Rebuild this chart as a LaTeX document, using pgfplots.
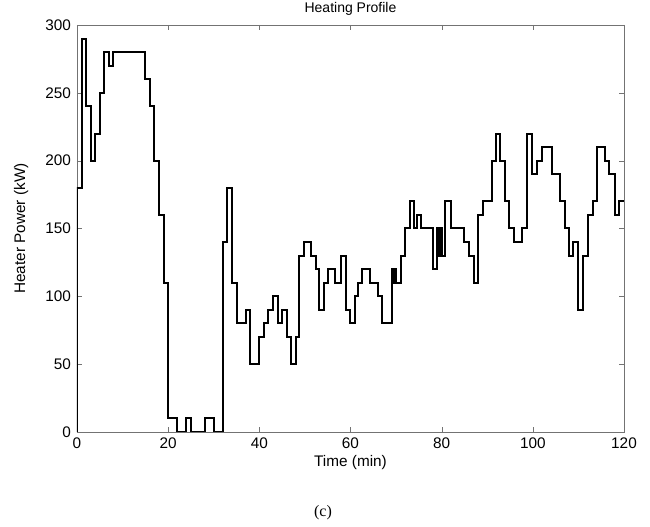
\documentclass[border=0pt]{standalone}
\usepackage{pgfplots}
\pgfplotsset{compat=1.18}
\usepackage{fontspec}
\setmainfont{Liberation Sans}
\newfontfamily\timesfont{Liberation Serif}
\begin{document}
\begin{tikzpicture}[x=1pt,y=1pt]
\useasboundingbox (-57.75,-71.25) rectangle (429.75,324);
\begin{axis}[
  at={(0,0)}, anchor=south west,
  scale only axis, width=410.25pt, height=305.25pt,
  xmin=0, xmax=120, ymin=0, ymax=300,
  xtick={0,20,...,120}, ytick={0,50,...,300},
  tick align=inside, major tick length=3.5pt,
  axis line style={black!55}, tick style={black!55},
  font=\fontsize{11.5}{13}\selectfont,
  /pgf/number format/assume math mode=true,
  title={Heating Profile},
  title style={font=\fontsize{10.5}{12}\selectfont, yshift=-2pt},
  xlabel={Time (min)}, ylabel={Heater Power (kW)},
  xlabel style={yshift=2pt},
  ylabel style={yshift=6pt},
  xticklabel style={yshift=-1pt},
  yticklabel style={xshift=-1pt},
]
\addplot[const plot, black, line width=1.5pt] coordinates {
(0,0) (0,180) (1,290) (2,240) (3,200) (4,220) (5,250) (6,280) (7,270) (8,280)
(15,260) (16,240) (17,200) (18,160) (19,110) (20,10) (22,0) (24,10) (25,0)
(28,10) (30,0) (32,140) (33,180) (34,110) (35,80) (37,90) (38,50) (40,70)
(41,80) (42,90) (43,100) (44,80) (45,90) (46,70) (47,50) (48,70)
(48.7,130) (49.9,140) (51.4,130) (52.5,120) (53.1,90) (54.2,110) (55,120)
(56.6,110) (57.9,130) (59.1,90) (59.8,80) (60.9,100) (61.6,110) (62.6,120)
(64.2,110) (66,100) (67,80)
(69,120) (69.15,110) (69.3,120) (69.45,110) (69.6,120) (69.75,110) (69.9,120)
(70,110) (71,130) (72,150) (73,170) (74,150) (74.5,160) (75.5,150) (78,120)
(78.9,150) (79.05,130) (79.2,150) (79.35,130) (79.5,150) (79.65,130) (79.8,150)
(80,130) (80.8,170) (82,150) (85,140) (86,130) (87,110) (88,160) (89,170)
(91,200) (92,220) (92.8,200) (93.8,170) (94.8,150) (95.8,140) (97.6,150)
(98.8,220) (99.8,190) (100.9,200) (102,210) (104.1,190) (106,170) (107,150)
(108,130) (108.9,140) (109.9,90) (111.1,130) (112.1,160) (113.2,170)
(114,210) (115.9,200) (116.7,190) (118,160) (119,170) (120,170)
};
\end{axis}
\node[font=\timesfont\fontsize{12}{14}\selectfont] at (184.5,-60.75) {(c)};
\end{tikzpicture}
\end{document}
